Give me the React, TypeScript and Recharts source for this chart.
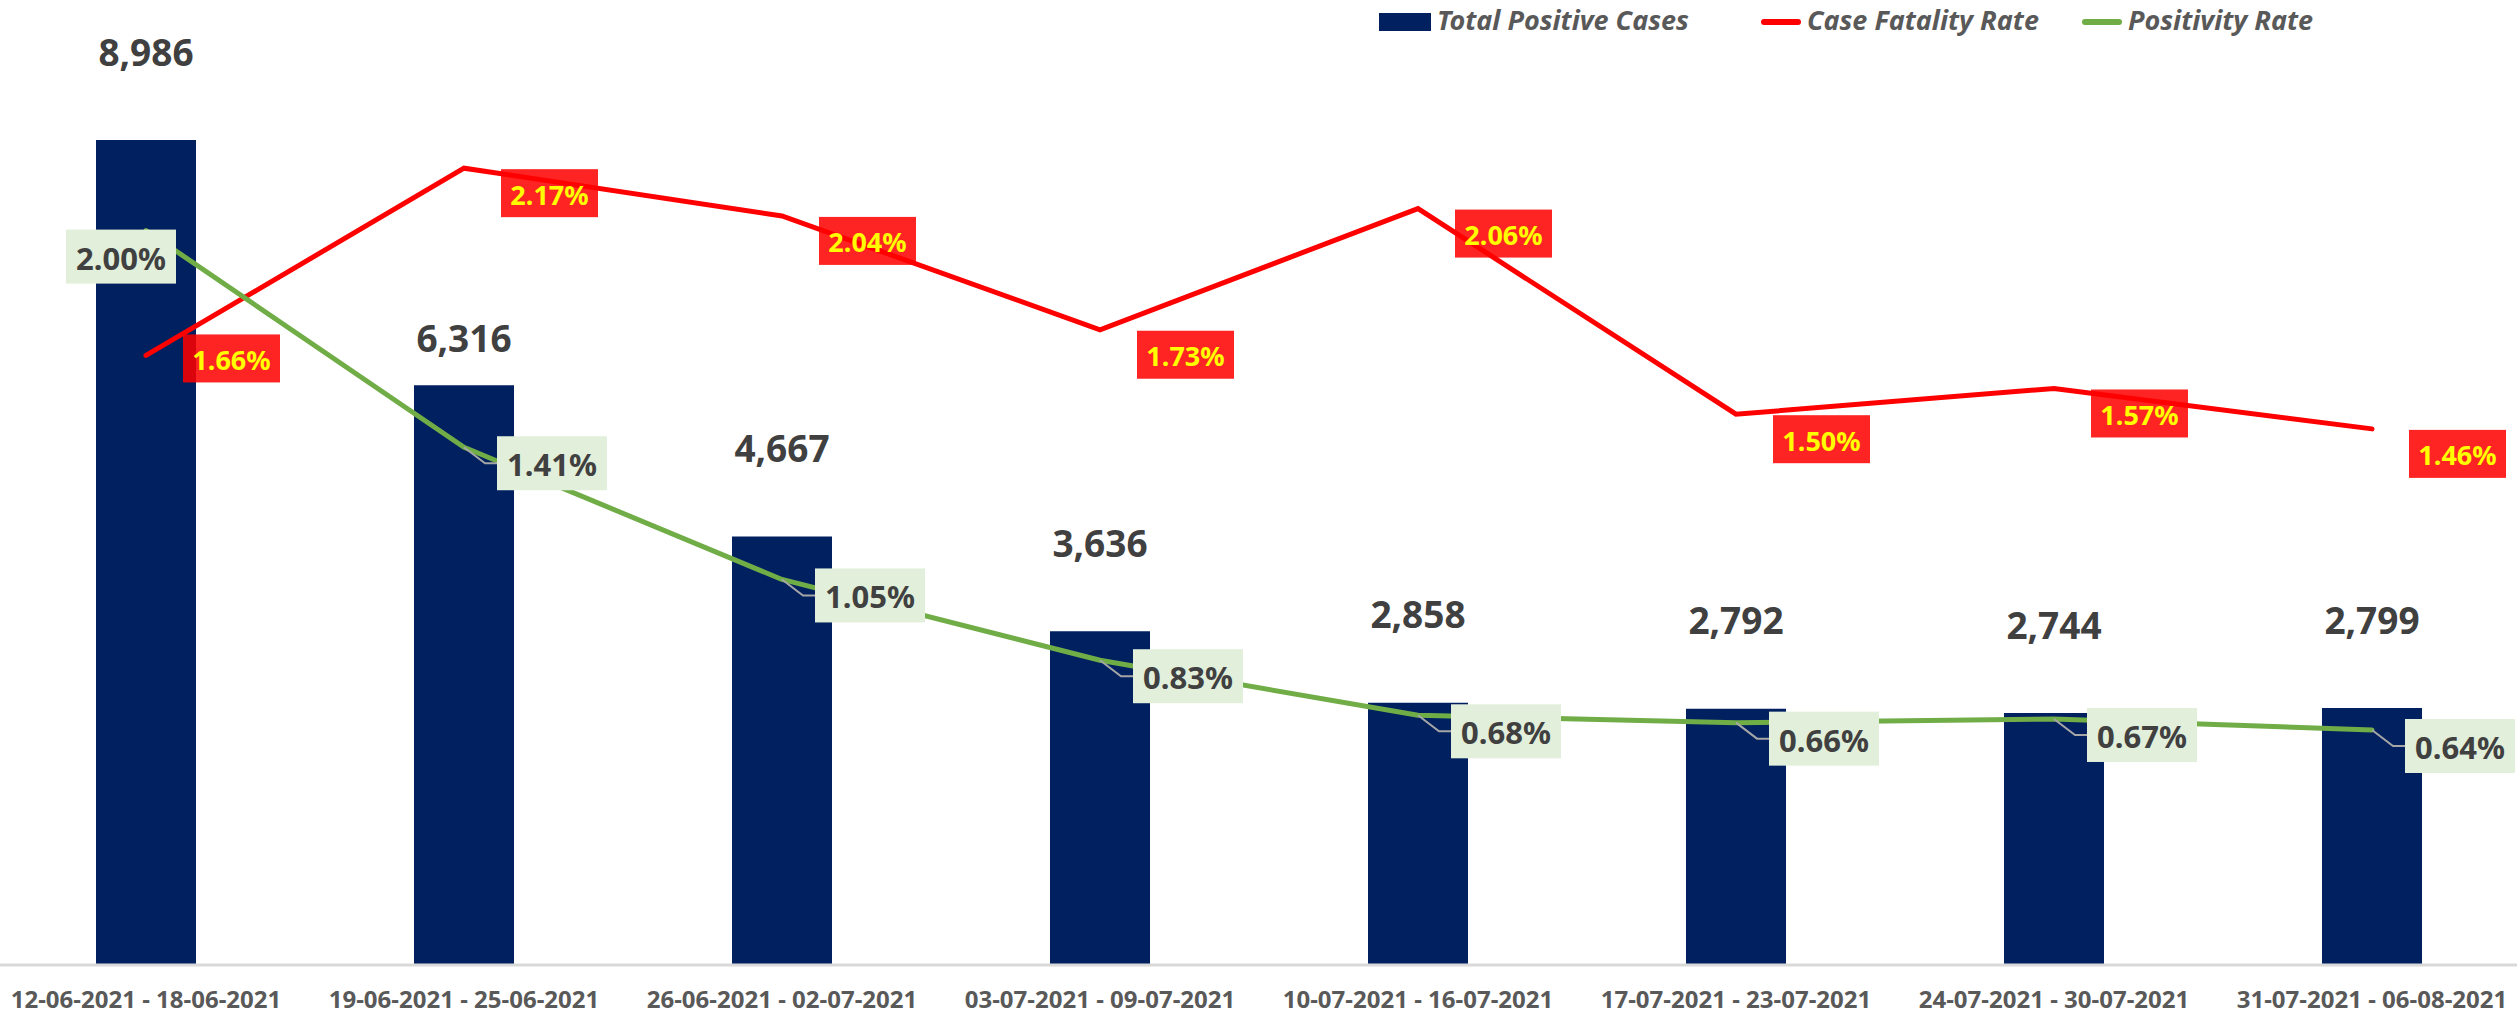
import React from 'react';
import { ComposedChart, Bar, Line, XAxis, YAxis, LabelList } from 'recharts';

const weeks = [
  '12-06-2021 - 18-06-2021',
  '19-06-2021 - 25-06-2021',
  '26-06-2021 - 02-07-2021',
  '03-07-2021 - 09-07-2021',
  '10-07-2021 - 16-07-2021',
  '17-07-2021 - 23-07-2021',
  '24-07-2021 - 30-07-2021',
  '31-07-2021 - 06-08-2021',
];
const positiveCases = [8986, 6316, 4667, 3636, 2858, 2792, 2744, 2799];
const fatalityRate = [1.66, 2.17, 2.04, 1.73, 2.06, 1.5, 1.57, 1.46];
const positivityRate = [2.0, 1.41, 1.05, 0.83, 0.68, 0.66, 0.67, 0.64];

const data = weeks.map((week, i) => ({
  week,
  cases: positiveCases[i],
  cfr: fatalityRate[i],
  pr: positivityRate[i],
}));

const FONT = '"Noto Sans", sans-serif';

// data label over each bar
function CasesLabel(props: any) {
  const { x, y, width, value, index } = props;
  const lift = index === 1 ? 48 : 89;
  return (
    <text
      x={x + width / 2}
      y={y - lift}
      textAnchor="middle"
      dominantBaseline="central"
      fontFamily={FONT}
      fontWeight={700}
      fontSize={37}
      fill="#404040"
    >
      {value.toLocaleString('en-US')}
    </text>
  );
}

// red box with yellow text
function CfrLabel(props: any) {
  const { x, y, value, index } = props;
  const bx = x + 37;
  const by = index === 0 ? y - 21 : y + 1;
  return (
    <g>
      <rect x={bx} y={by} width={97} height={48} fill="#FF0000" fillOpacity={0.86} />
      <text
        x={bx + 48.5}
        y={by + 25}
        textAnchor="middle"
        dominantBaseline="central"
        fontFamily={FONT}
        fontWeight={700}
        fontSize={27}
        fill="#FFFF00"
      >
        {value.toFixed(2)}%
      </text>
    </g>
  );
}

// light green box, gray leader line
function PrLabel(props: any) {
  const { x, y, value, index } = props;
  const first = index === 0;
  const bx = first ? x - 80 : x + 33;
  const by = first ? y - 1 : y - 11;
  return (
    <g>
      {!first && (
        <polyline
          points={`${x},${y} ${x + 21},${y + 16} ${bx},${y + 16}`}
          fill="none"
          stroke="#A6A6A6"
          strokeWidth={2}
        />
      )}
      <rect x={bx} y={by} width={110} height={54} fill="#E2EFDA" />
      <text
        x={bx + 55}
        y={by + 28}
        textAnchor="middle"
        dominantBaseline="central"
        fontFamily={FONT}
        fontWeight={700}
        fontSize={31}
        fill="#404040"
      >
        {value.toFixed(2)}%
      </text>
    </g>
  );
}

function Legend() {
  const txt: React.CSSProperties = {
    position: 'absolute',
    top: 3,
    fontFamily: FONT,
    fontWeight: 700,
    fontStyle: 'italic',
    fontSize: 27,
    color: '#595959',
    lineHeight: '34px',
    whiteSpace: 'nowrap',
  };
  return (
    <>
      <div style={{ position: 'absolute', left: 1379, top: 13, width: 52, height: 18, background: '#002060' }} />
      <div style={{ ...txt, left: 1437 }}>Total Positive Cases</div>
      <div style={{ position: 'absolute', left: 1761, top: 19, width: 40, height: 6, borderRadius: 3, background: '#FF0000' }} />
      <div style={{ ...txt, left: 1807 }}>Case Fatality Rate</div>
      <div style={{ position: 'absolute', left: 2082, top: 19, width: 40, height: 6, borderRadius: 3, background: '#70AD47' }} />
      <div style={{ ...txt, left: 2128 }}>Positivity Rate</div>
    </>
  );
}

export default function App() {
  return (
    <div
      style={{
        position: 'fixed',
        left: 0,
        top: 0,
        width: 2517,
        height: 1014,
        overflow: 'hidden',
        background: '#fff',
      }}
    >
      <div style={{ position: 'absolute', left: -13, top: 0 }}>
        <ComposedChart
          width={2544}
          height={1014}
          data={data}
          margin={{ top: 47, right: 0, bottom: 0, left: 0 }}
          barCategoryGap={109}
        >
          <XAxis
            dataKey="week"
            height={49}
            axisLine={{ stroke: '#D9D9D9', strokeWidth: 3 }}
            tickLine={false}
            interval={0}
            tick={{ fontFamily: FONT, fontWeight: 700, fontSize: 24, fill: '#595959', dy: 18 }}
          />
          <YAxis yAxisId="cases" hide domain={[0, 10000]} />
          <YAxis yAxisId="rate" hide orientation="right" domain={[0, 2.5]} />
          <Bar yAxisId="cases" dataKey="cases" fill="#002060" barSize={100} isAnimationActive={false}>
            <LabelList dataKey="cases" content={<CasesLabel />} />
          </Bar>
          <Line
            yAxisId="rate"
            type="linear"
            dataKey="cfr"
            stroke="#FF0000"
            strokeWidth={5}
            strokeLinecap="round"
            dot={false}
            isAnimationActive={false}
          >
            <LabelList dataKey="cfr" content={<CfrLabel />} />
          </Line>
          <Line
            yAxisId="rate"
            type="linear"
            dataKey="pr"
            stroke="#70AD47"
            strokeWidth={5}
            strokeLinecap="round"
            strokeLinejoin="round"
            dot={false}
            isAnimationActive={false}
          >
            <LabelList dataKey="pr" content={<PrLabel />} />
          </Line>
        </ComposedChart>
      </div>
      <Legend />
    </div>
  );
}
